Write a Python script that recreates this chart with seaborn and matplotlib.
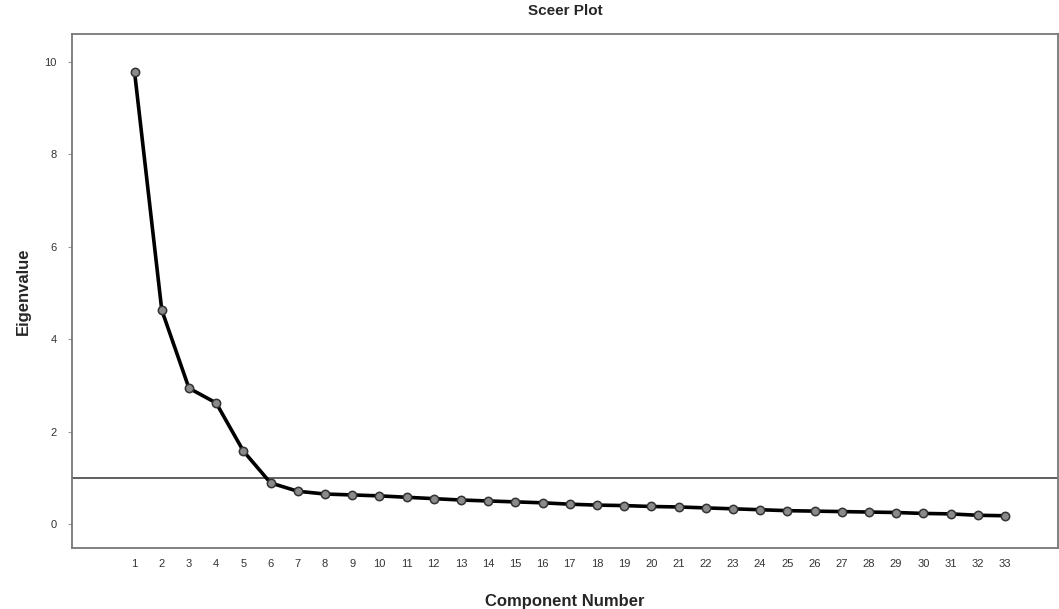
import numpy as np
import pandas as pd
import matplotlib
matplotlib.use("Agg")
import matplotlib.pyplot as plt
import seaborn as sns

components = list(range(1, 34))
eigenvalues = [9.78, 4.63, 2.94, 2.62, 1.58, 0.89, 0.71, 0.65, 0.63, 0.61,
               0.58, 0.55, 0.52, 0.50, 0.48, 0.46, 0.43, 0.41, 0.40, 0.38,
               0.37, 0.35, 0.33, 0.31, 0.29, 0.28, 0.27, 0.26, 0.25, 0.23,
               0.22, 0.19, 0.18]
cutoff = 1.0

df = pd.DataFrame({"Component": components, "Eigenvalue": eigenvalues})

sns.set_style("white")
plt.rcParams['font.family'] = ['Liberation Sans', 'DejaVu Sans']

fig = plt.figure(figsize=(10.59, 6.09), dpi=100)
ax = fig.add_axes([0.068, 0.1, 0.931, 0.844])

ax.axhline(cutoff, color="#444444", lw=1.2, zorder=1)
sns.lineplot(data=df, x="Component", y="Eigenvalue", ax=ax, color="black",
             lw=2.6, marker="o", markersize=6, markerfacecolor="#8a8a8a",
             markeredgecolor="#333333", markeredgewidth=1.1, zorder=3)

ax.set_xlim(-1.3, 34.95)
ax.set_ylim(-0.52, 10.6)
ax.set_xticks(components)
ax.set_xticklabels([str(c) for c in components], fontsize=8, color="#333333")
ax.set_yticks([0, 2, 4, 6, 8, 10])
ax.set_yticklabels(["0", "2", "4", "6", "8", "10"], fontsize=8, color="#333333")
ax.tick_params(axis="x", length=0, pad=8)
ax.tick_params(axis="y", length=3, color="#999999", pad=8, left=True)

for s in ax.spines.values():
    s.set_color("#777777")
    s.set_linewidth(1.3)

ax.set_title("Sceer Plot", fontsize=11, fontweight="bold", pad=14)
ax.set_xlabel("Component Number", fontsize=12, fontweight="bold", labelpad=18)
ax.set_ylabel("Eigenvalue", fontsize=12, fontweight="bold", labelpad=10)

fig.savefig("out.png", dpi=100)
